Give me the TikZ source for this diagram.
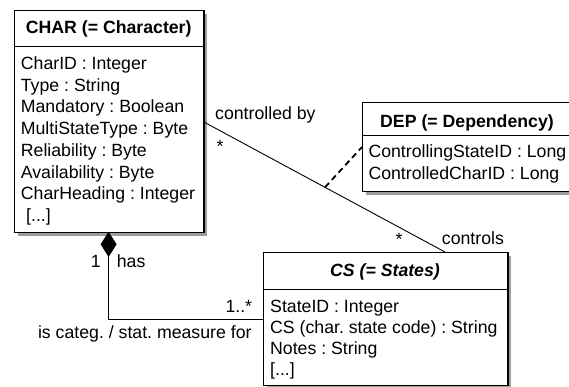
\documentclass[tikz,border=0pt]{standalone}
\usepackage{fontspec}
\setmainfont{Liberation Sans}
\usetikzlibrary{shadows}
\begin{document}
\frenchspacing
\begin{tikzpicture}[x=1pt,y=-1pt,
  classbox/.style={draw, line width=1.2pt, fill=white, inner sep=0pt, anchor=north west,
    drop shadow={shadow xshift=3.5pt, shadow yshift=-3.5pt, fill=black!55, opacity=0.7}},
  sepline/.style={line width=1.2pt},
  txt/.style={inner sep=0pt, font=\fontsize{17.7}{21.7}\selectfont},
  attr/.style={txt, anchor=base west},
  head/.style={txt, anchor=base, font=\fontsize{17.7}{21.7}\selectfont\bfseries},
  lbl/.style={txt, anchor=base west},
  conn/.style={line width=0.9pt},
  depline/.style={line width=1.8pt, dash pattern=on 6pt off 4pt}
]
\useasboundingbox (0,0) rectangle (569,387);

% CHAR
\node[classbox, minimum width=189.3pt, minimum height=221.7pt] (char) at (14,10) {};
\draw[sepline] (14,46.7) -- (203.3,46.7);
\node[head] (charh) at (108.7,34) {CHAR (= Character)};
\foreach \t [count=\i] in {{CharID : Integer},{Type : String},{Mandatory : Boolean},{MultiStateType : Byte},{Reliability : Byte},{Availability : Byte},{CharHeading : Integer}}
  \node[attr] (ca\i) at (20.7,{69.6+21.7*(\i-1)}) {\t};
\node[attr] (ca8) at (26,221.5) {[...]};

% DEP
\node[classbox, minimum width=210pt, minimum height=88.4pt] (dep) at (362,102.3) {};
\draw[sepline] (362,135.7) -- (572,135.7);
\node[head] (deph) at (467,127.5) {DEP (= Dependency)};
\node[attr] (da1) at (368.3,158) {ControllingStateID : Long};
\node[attr] (da2) at (368.3,179) {ControlledCharID : Long};

% CS
\node[classbox, minimum width=244.6pt, minimum height=133pt] (cs) at (262.7,252) {};
\draw[sepline] (262.7,289.3) -- (507.3,289.3);
\node[head, font=\fontsize{17.7}{21.7}\selectfont\bfseries\itshape] (csh) at (385,276) {CS (= States)};
\node[attr] (sa1) at (270,312.5) {StateID : Integer};
\node[attr] (sa2) at (270,333.6) {CS (char. state code) : String};
\node[attr] (sa3) at (270,354.7) {Notes : String};
\node[attr] (sa4) at (270,375.8) {[...]};

% association controlled by / controls
\coordinate (a1) at (203.3,121.7);
\coordinate (a2) at (445,252);
\draw[conn] (a1) -- (a2) coordinate[pos=0.5035] (aj);
\coordinate (dj) at (362,147);
\draw[depline] (aj) -- (dj);
\node[lbl] (lcb) at (215,120) {controlled by};
\node[txt, anchor=base] (ls1) at (220,153) {*};
\node[txt, anchor=base] (ls2) at (399,245) {*};
\node[lbl] (lco) at (441.7,244) {controls};

% composition
\coordinate (dtop) at (108.6,231.7);
\coordinate (dbot) at (108.6,257);
\coordinate (dl) at (100.6,244.3);
\coordinate (dr) at (116.6,244.3);
\fill (dtop) -- (dr) -- (dbot) -- (dl) -- cycle;
\coordinate (cc) at (108.6,319);
\coordinate (ce) at (262.7,319);
\draw[conn] (dbot) -- (cc) -- (ce);
\node[txt, anchor=base] (l1) at (95.7,267) {1};
\node[lbl] (lhas) at (116.7,267) {has};
\node[txt, anchor=base east] (lmany) at (252.3,312.3) {1..*};
\node[txt, anchor=base east] (lcat) at (251.7,338) {is categ. / stat. measure for};
\end{tikzpicture}
\end{document}
